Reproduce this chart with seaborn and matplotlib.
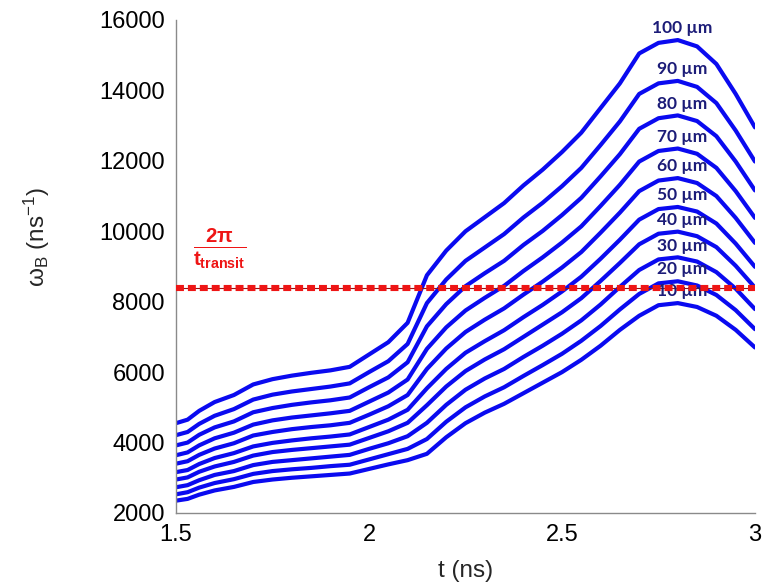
import numpy as np
import pandas as pd
import matplotlib
matplotlib.use("Agg")
import matplotlib.pyplot as plt
import seaborn as sns

# time axis (ns)
t_ns = [1.50, 1.53, 1.56, 1.60, 1.65, 1.70, 1.75, 1.80, 1.85, 1.90, 1.95, 2.00,
        2.05, 2.10, 2.15, 2.20, 2.25, 2.30, 2.35, 2.40, 2.45, 2.50, 2.55, 2.60,
        2.65, 2.70, 2.75, 2.80, 2.85, 2.90, 2.95, 3.00]

# omega_B (ns^-1) for each spacing
w10 = [2350, 2400, 2520, 2640, 2740, 2880, 2950, 3000, 3040, 3080, 3120, 3250, 3380, 3500, 3680, 4150,
       4550, 4850, 5100, 5400, 5700, 6000, 6350, 6750, 7200, 7600, 7900, 7960, 7850, 7600, 7200, 6700]
w20 = [2530, 2590, 2720, 2850, 2960, 3110, 3190, 3240, 3280, 3330, 3370, 3520, 3670, 3820, 4100, 4590,
       5000, 5310, 5570, 5890, 6200, 6520, 6890, 7310, 7780, 8220, 8520, 8580, 8460, 8190, 7760, 7220]
w30 = [2730, 2790, 2930, 3080, 3190, 3360, 3450, 3500, 3550, 3600, 3650, 3820, 3980, 4180, 4560, 5070,
       5500, 5820, 6090, 6430, 6750, 7090, 7470, 7920, 8420, 8900, 9200, 9260, 9140, 8840, 8370, 7790]
w40 = [2950, 3010, 3170, 3320, 3450, 3630, 3730, 3790, 3840, 3890, 3940, 4130, 4320, 4560, 5060, 5590,
       6030, 6360, 6650, 7000, 7350, 7700, 8100, 8590, 9100, 9630, 9930, 9990, 9860, 9550, 9020, 8400]
w50 = [3160, 3220, 3390, 3560, 3700, 3890, 3990, 4060, 4120, 4170, 4230, 4440, 4650, 4930, 5540, 6090,
       6550, 6880, 7190, 7560, 7910, 8290, 8710, 9220, 9760, 10330, 10630, 10690, 10560, 10220, 9650, 8990]
w60 = [3400, 3470, 3650, 3830, 3980, 4200, 4300, 4380, 4440, 4490, 4560, 4790, 5030, 5350, 6090, 6670,
       7140, 7490, 7810, 8200, 8570, 8970, 9410, 9960, 10530, 11140, 11440, 11510, 11370, 11000, 10380, 9670]
w70 = [3640, 3720, 3920, 4120, 4280, 4510, 4630, 4710, 4770, 4830, 4900, 5160, 5420, 5790, 6660, 7270,
       7750, 8110, 8450, 8870, 9260, 9680, 10140, 10720, 11320, 11980, 12280, 12350, 12200, 11800, 11140, 10380]
w80 = [3920, 4000, 4220, 4430, 4600, 4860, 4980, 5070, 5140, 5200, 5280, 5570, 5850, 6280, 7300, 7930,
       8440, 8810, 9160, 9610, 10010, 10460, 10950, 11560, 12190, 12910, 13210, 13290, 13130, 12700, 11980, 11160]
w90 = [4210, 4300, 4530, 4760, 4950, 5220, 5360, 5450, 5520, 5590, 5680, 6000, 6310, 6800, 7960, 8630,
       9160, 9540, 9920, 10390, 10810, 11280, 11800, 12450, 13120, 13900, 14200, 14270, 14100, 13640, 12860, 11980]
w100 = [4550, 4650, 4900, 5150, 5350, 5650, 5800, 5900, 5980, 6050, 6150, 6500, 6850, 7400, 8750, 9450,
        10000, 10400, 10800, 11300, 11750, 12250, 12800, 13500, 14200, 15050, 15350, 15430, 15250, 14750, 13900, 12950]

labels = ["10 µm", "20 µm", "30 µm", "40 µm", "50 µm", "60 µm", "70 µm", "80 µm", "90 µm", "100 µm"]
series = [w10, w20, w30, w40, w50, w60, w70, w80, w90, w100]

omega_transit = 8400  # 2*pi / t_transit

# long table for seaborn
df = pd.concat([pd.DataFrame({"t": t_ns, "omega": s, "size": lab})
                for lab, s in zip(labels, series)], ignore_index=True)

sns.set_style("white")
plt.rcParams['font.family'] = ['Liberation Sans', 'DejaVu Sans']
plt.rcParams['mathtext.fontset'] = 'custom'
plt.rcParams['mathtext.rm'] = 'Liberation Sans'
plt.rcParams['mathtext.bf'] = 'Liberation Sans:bold'
plt.rcParams['mathtext.it'] = 'Liberation Sans:italic'

fig = plt.figure(figsize=(7.64, 5.88), dpi=100)
ax = fig.add_axes([0.2304, 0.1276, 0.7578, 0.8384])

blue = "#0a0af0"
sns.lineplot(data=df, x="t", y="omega", hue="size", palette=[blue] * len(labels),
             estimator=None, legend=False, lw=3.0, ax=ax)

# transit frequency line
ax.axhline(omega_transit, color="#9a1010", lw=0.8, zorder=3)
ax.axhline(omega_transit, color="#ee1515", lw=4.4, dashes=(1.3, 0.65),
           solid_capstyle="butt", zorder=4)
ax.text(1.612, omega_transit + 1100, r"$\mathbf{\frac{2\pi}{t_{transit}}}$",
        color="#ee1515", fontsize=21, ha="center", va="center")

# spacing labels above each peak
for lab, s in zip(labels, series):
    i = int(np.argmax(s))
    ax.annotate(lab, (t_ns[i] + 0.012, s[i]), xytext=(0, 8.5), textcoords="offset points",
                ha="center", va="center", fontsize=12.5, fontweight="bold",
                color="#1c1c78", family=["Lato", "DejaVu Sans"])

ax.set_xlim(1.5, 3.0)
ax.set_ylim(2000, 16000)
ax.set_xticks([1.5, 2, 2.5, 3])
ax.set_xticklabels(["1.5", "2", "2.5", "3"])
ax.set_yticks(range(2000, 16001, 2000))
sns.despine(ax=ax)
for sp in ["left", "bottom"]:
    ax.spines[sp].set_color("#8a8a8a")
    ax.spines[sp].set_linewidth(1.0)
ax.tick_params(direction="in", length=5, width=0.8, color="#8a8a8a",
               labelsize=17, labelcolor="black", pad=8)

ax.set_xlabel("t (ns)", fontsize=17.5)
ax.set_ylabel(r"$\mathregular{\omega_B}$ (ns$^{\mathregular{-1}}$)", fontsize=17.5)
ax.xaxis.set_label_coords(0.5, -0.095)
ax.yaxis.set_label_coords(-0.214, 0.56)

fig.savefig("out.png", dpi=100)
